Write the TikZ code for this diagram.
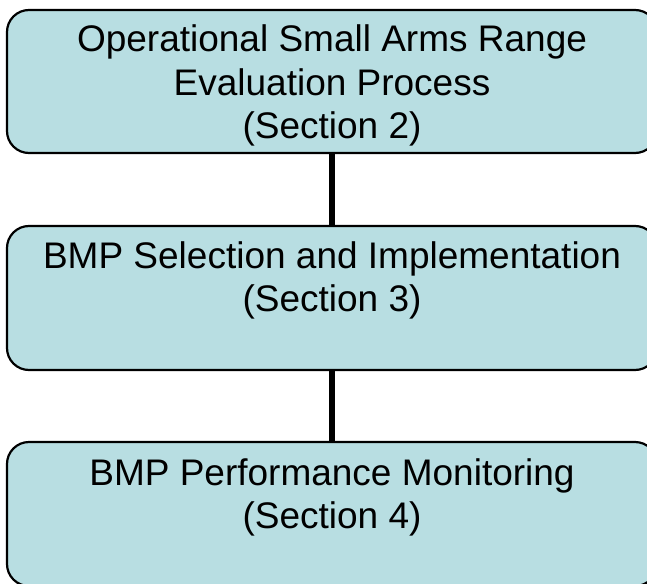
\documentclass[tikz,border=0pt]{standalone}
\usepackage{fontspec}
\setmainfont{Liberation Sans}
\definecolor{boxfill}{RGB}{184,222,226}
\begin{document}
\begin{tikzpicture}[x=1pt,y=-1pt,
  stagebox/.style={draw=black,line width=2.2pt,fill=boxfill,rounded corners=22pt,
    minimum width=650pt,inner sep=0pt},
  stagetext/.style={anchor=base,align=center,inner sep=0pt,
    font=\fontsize{37pt}{43pt}\selectfont},
  link/.style={line width=6pt,draw=black}]
  \useasboundingbox (0,0) rectangle (647,583);
  \clip (0,0) rectangle (647,583);
  % three stacked stages
  \node[stagebox,minimum height=143pt] (s1) at (332,81.5) {};
  \node[stagebox,minimum height=144pt] (s2) at (332,298) {};
  \node[stagebox,minimum height=144pt] (s3) at (332,514) {};
  % connectors between stages
  \draw[link] (s1.south) -- (s2.north);
  \draw[link] (s2.south) -- (s3.north);
  % stage labels (anchored on the baseline of their last line)
  \node[stagetext] (t1) at (332,138) {Operational Small Arms Range\\Evaluation Process\\(Section 2)};
  \node[stagetext] (t2) at (332,311) {BMP Selection and Implementation\\(Section 3)};
  \node[stagetext] (t3) at (332,528) {BMP Performance Monitoring\\(Section 4)};
\end{tikzpicture}
\end{document}
